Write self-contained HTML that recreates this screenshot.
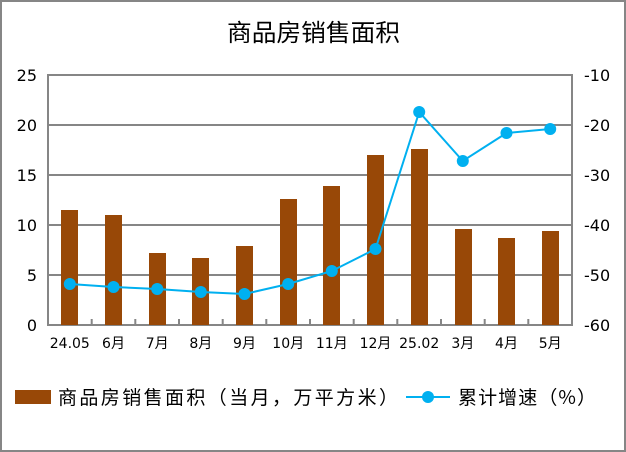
<!DOCTYPE html>
<html><head><meta charset="utf-8"><style>
html,body{margin:0;padding:0;background:#fff}
svg{display:block}
text{font-family:"DejaVu Sans","Noto Sans CJK SC",sans-serif;fill:#000}
</style></head><body>
<svg width="626" height="452" viewBox="0 0 626 452" xmlns="http://www.w3.org/2000/svg">
<rect x="1" y="1" width="624" height="450" fill="#fff" stroke="#868686" stroke-width="2"/>
<text x="227" y="41" font-size="24" textLength="173" lengthAdjust="spacingAndGlyphs" style="font-family:'Noto Sans CJK SC',sans-serif">商品房销售面积</text>
<g stroke="#868686" stroke-width="2" fill="none">
<line x1="48" y1="75" x2="572" y2="75"/>
<line x1="48" y1="125" x2="572" y2="125"/>
<line x1="48" y1="175" x2="572" y2="175"/>
<line x1="48" y1="225" x2="572" y2="225"/>
<line x1="48" y1="275" x2="572" y2="275"/>
<line x1="48" y1="74" x2="48" y2="326"/>
<line x1="572" y1="74" x2="572" y2="326"/>
<line x1="48" y1="325" x2="572" y2="325"/>
<path d="M91.7 325v-6M135.3 325v-6M179 325v-6M222.7 325v-6M266.3 325v-6M310 325v-6M353.7 325v-6M397.3 325v-6M441 325v-6M484.7 325v-6M528.3 325v-6"/>
</g>
<g fill="#984807">
<rect x="61" y="210" width="17" height="115"/>
<rect x="105" y="215" width="17" height="110"/>
<rect x="149" y="253" width="17" height="72"/>
<rect x="192" y="258" width="17" height="67"/>
<rect x="236" y="246" width="17" height="79"/>
<rect x="280" y="199" width="17" height="126"/>
<rect x="323" y="186" width="17" height="139"/>
<rect x="367" y="155" width="17" height="170"/>
<rect x="411" y="149" width="17" height="176"/>
<rect x="455" y="229" width="17" height="96"/>
<rect x="498" y="238" width="17" height="87"/>
<rect x="542" y="231" width="17" height="94"/>
</g>
<polyline fill="none" stroke="#00b0f0" stroke-width="2" points="69.8,284 113.5,287 157.2,289 200.8,292 244.5,294 288.2,284 331.8,271 375.5,249 419.2,112 462.8,161 506.5,133 550.2,129"/>
<g fill="#00b0f0">
<circle cx="69.8" cy="284" r="6"/><circle cx="113.5" cy="287" r="6"/><circle cx="157.2" cy="289" r="6"/><circle cx="200.8" cy="292" r="6"/><circle cx="244.5" cy="294" r="6"/><circle cx="288.2" cy="284" r="6"/><circle cx="331.8" cy="271" r="6"/><circle cx="375.5" cy="249" r="6"/><circle cx="419.2" cy="112" r="6"/><circle cx="462.8" cy="161" r="6"/><circle cx="506.5" cy="133" r="6"/><circle cx="550.2" cy="129" r="6"/>
</g>
<g font-size="16" text-anchor="end">
<text x="37" y="81">25</text><text x="37" y="131">20</text><text x="37" y="181">15</text><text x="37" y="231">10</text><text x="37" y="281">5</text><text x="37" y="331">0</text>
</g>
<g font-size="16" text-anchor="start">
<text x="584" y="81">-10</text><text x="584" y="131">-20</text><text x="584" y="181">-30</text><text x="584" y="231">-40</text><text x="584" y="281">-50</text><text x="584" y="331">-60</text>
</g>
<g font-size="14" text-anchor="middle">
<text x="69.8" y="348">24.05</text><text x="113.5" y="348">6月</text><text x="157.2" y="348">7月</text><text x="200.8" y="348">8月</text><text x="244.5" y="348">9月</text><text x="288.2" y="348">10月</text><text x="331.8" y="348">11月</text><text x="375.5" y="348">12月</text><text x="419.2" y="348">25.02</text><text x="462.8" y="348">3月</text><text x="506.5" y="348">4月</text><text x="550.2" y="348">5月</text>
</g>
<rect x="15" y="390" width="36" height="14" fill="#984807"/>
<text x="58" y="404" font-size="19" textLength="340" lengthAdjust="spacing" style="font-family:'Noto Sans CJK SC',sans-serif">商品房销售面积（当月，万平方米）</text>
<line x1="406" y1="397" x2="450" y2="397" stroke="#00b0f0" stroke-width="2"/>
<circle cx="428" cy="397" r="6" fill="#00b0f0"/>
<text x="458" y="404" font-size="19" textLength="138" lengthAdjust="spacing" style="font-family:'Noto Sans CJK SC',sans-serif">累计增速（%）</text>
</svg>
</body></html>
